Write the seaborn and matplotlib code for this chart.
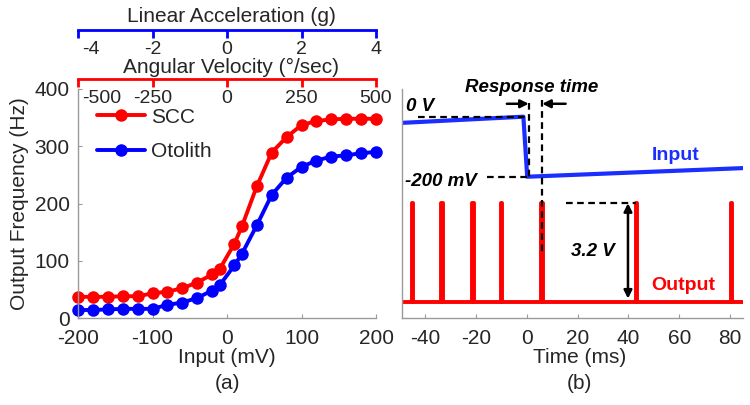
import numpy as np
import pandas as pd
import seaborn as sns
from matplotlib import pyplot as plt
from matplotlib import transforms

# ==== panel (a): output frequency vs input ====
input_mv = [-200, -180, -160, -140, -120, -100, -80, -60, -40, -20, -10,
            10, 20, 40, 60, 80, 100, 120, 140, 160, 180, 200]
scc_hz = [37, 37, 37, 38, 38, 43, 46, 52, 62, 76, 85,
          130, 160, 230, 289, 316, 337, 344, 347, 348, 348, 348]
otolith_hz = [14, 14, 15, 16, 16, 16, 23, 27, 35, 48, 57,
              92, 112, 162, 215, 245, 264, 275, 282, 284, 288, 290]

accel_ticks = [-4, -2, 0, 2, 4]
angvel_ticks = [-500, -250, 0, 250, 500]

# ==== panel (b): input step and output spikes ====
input_t = [-49, -1.3, 0.2, 85]
input_v = [5.81, 6.01, 4.06, 4.34]
spike_t = [-45.1, -33.5, -21.3, -10.2, 5.8, 43.0, 80.3]
spike_height = 3.2
time_lim = (-49, 85)

sns.set_style('white')
plt.rcParams['font.family'] = ['Liberation Sans', 'DejaVu Sans']
plt.rcParams['axes.unicode_minus'] = False

fig = plt.figure(figsize=(7.5, 4.05), dpi=100)
W, H = 750., 405.

ax1 = fig.add_axes([78 / W, 87 / H, 298 / W, 229 / H])
ax2 = fig.add_axes([402 / W, 87 / H, 341 / W, 229 / H])

df = pd.concat([
    pd.DataFrame({'mV': input_mv, 'Hz': scc_hz, 'organ': 'SCC'}),
    pd.DataFrame({'mV': input_mv, 'Hz': otolith_hz, 'organ': 'Otolith'}),
])
sns.lineplot(data=df, x='mV', y='Hz', hue='organ', hue_order=['SCC', 'Otolith'],
             palette={'SCC': '#ff0000', 'Otolith': '#0000ff'}, marker='o', markersize=9,
             markeredgewidth=0, linewidth=2.8, estimator=None, sort=False, ax=ax1,
             clip_on=False)
ax1.set_xlim(-200, 200)
ax1.set_ylim(0, 400)
ax1.set_xticks([-200, -100, 0, 100, 200])
ax1.set_yticks([0, 100, 200, 300, 400])
ax1.set_xlabel('Input (mV)', fontsize=15)
ax1.set_ylabel('Output Frequency (Hz)', fontsize=15)
ax1.xaxis.set_label_coords(0.5, -0.13)
ax1.yaxis.set_label_coords(-0.165, 0.5)
ax1.text(0.5, -0.285, '(a)', transform=ax1.transAxes, ha='center', va='center', fontsize=15)
leg = ax1.legend(loc='upper left', bbox_to_anchor=(0.0, 1.0), frameon=False, fontsize=15,
                 handlelength=2.3, handletextpad=0.3, labelspacing=0.75, title=None)

# input trace and output spike train
out_t = [time_lim[0]]
out_v = [0]
for s in spike_t:
    out_t += [s, s, s + 0.5, s + 0.5]
    out_v += [0, spike_height, spike_height, 0]
out_t.append(time_lim[1])
out_v.append(0)
sns.lineplot(x=input_t, y=input_v, color='#1a2eff', linewidth=3, estimator=None, sort=False, ax=ax2)
sns.lineplot(x=out_t, y=out_v, color='#ff0000', linewidth=2.8, estimator=None, sort=False, ax=ax2)
ax2.set_xlim(*time_lim)
ax2.set_ylim(-0.53, 6.91)
ax2.set_xticks([-40, -20, 0, 20, 40, 60, 80])
ax2.set_yticks([])
ax2.set_xlabel('Time (ms)', fontsize=15)
ax2.xaxis.set_label_coords(0.52, -0.13)
ax2.text(0.52, -0.285, '(b)', transform=ax2.transAxes, ha='center', va='center', fontsize=15)

for ax in (ax1, ax2):
    for side in ('top', 'right'):
        ax.spines[side].set_visible(False)
    for side in ('left', 'bottom'):
        ax.spines[side].set_color('#9a9a9a')
        ax.spines[side].set_linewidth(1.0)
    ax.tick_params(direction='in', length=3, color='#9a9a9a', labelsize=15, pad=6,
                   bottom=True, left=True)
    ax.tick_params(axis='x', pad=8)

# annotations on panel (b)
dash = dict(color='black', linestyle=(0, (3, 2)), linewidth=1.6)
t_step = 0.8
ax2.plot([-42.9, t_step], [input_v[1], input_v[1]], **dash)
ax2.plot([-15.7, t_step], [input_v[2], input_v[2]], **dash)
ax2.plot([t_step, t_step], [6.46, input_v[2]], **dash)
ax2.plot([spike_t[4] + 0.3, spike_t[4] + 0.3], [6.56, 1.52], **dash)
ax2.plot([15.3, spike_t[5]], [spike_height, spike_height], **dash)
arrow = dict(arrowstyle='-|>', color='black', lw=1.8, mutation_scale=12, shrinkA=0, shrinkB=0)
ax2.annotate('', xy=(t_step, 6.43), xytext=(-7.8, 6.43), arrowprops=arrow)
ax2.annotate('', xy=(spike_t[4] + 0.3, 6.43), xytext=(15.3, 6.43), arrowprops=arrow)
ax2.annotate('', xy=(39.8, 0.1), xytext=(39.8, spike_height),
             arrowprops=dict(arrowstyle='<|-|>', color='black', lw=1.8, mutation_scale=12,
                             shrinkA=0, shrinkB=0))
bi = dict(fontsize=13.5, fontweight='bold', fontstyle='italic', color='black')
ax2.text(1.9, 6.95, 'Response time', ha='center', va='center', **bi)
ax2.text(-47.4, 6.34, '0 V', ha='left', va='center', **bi)
ax2.text(-47.8, 3.92, '-200 mV', ha='left', va='center', **bi)
ax2.text(17.3, 1.63, '3.2 V', ha='left', va='center', **bi)
ax2.text(49.0, 4.74, 'Input', ha='left', va='center', fontsize=14, fontweight='bold', color='#1a2eff')
ax2.text(49.0, 0.54, 'Output', ha='left', va='center', fontsize=14, fontweight='bold', color='#ff0000')

# secondary scales above panel (a)
for ypix, lim, ticks, col, title, ty in [(30, (-4, 4), accel_ticks, '#0000ff', 'Linear Acceleration (g)', 16),
                                          (79, (-500, 500), angvel_ticks, '#ff0000', 'Angular Velocity (°/sec)', 67)]:
    axt = fig.add_axes([78 / W, 1 - ypix / H, 298 / W, 0.001])
    axt.set_xlim(*lim)
    axt.set_xticks(ticks)
    axt.set_yticks([])
    for side in ('top', 'right', 'left'):
        axt.spines[side].set_visible(False)
    axt.spines['bottom'].set_color(col)
    axt.spines['bottom'].set_linewidth(2)
    axt.tick_params(axis='x', direction='out', length=6, width=2, color=col, labelsize=14, pad=2,
                    bottom=True)
    axt.patch.set_alpha(0)
    first = axt.get_xticklabels()[0]
    first.set_horizontalalignment('left')
    first.set_transform(first.get_transform() + transforms.ScaledTranslation(4 / 100, 0, fig.dpi_scale_trans))
    fig.text(231 / W, 1 - ty / H, title, ha='center', va='center', fontsize=15)

fig.savefig('out.png', dpi=100)
